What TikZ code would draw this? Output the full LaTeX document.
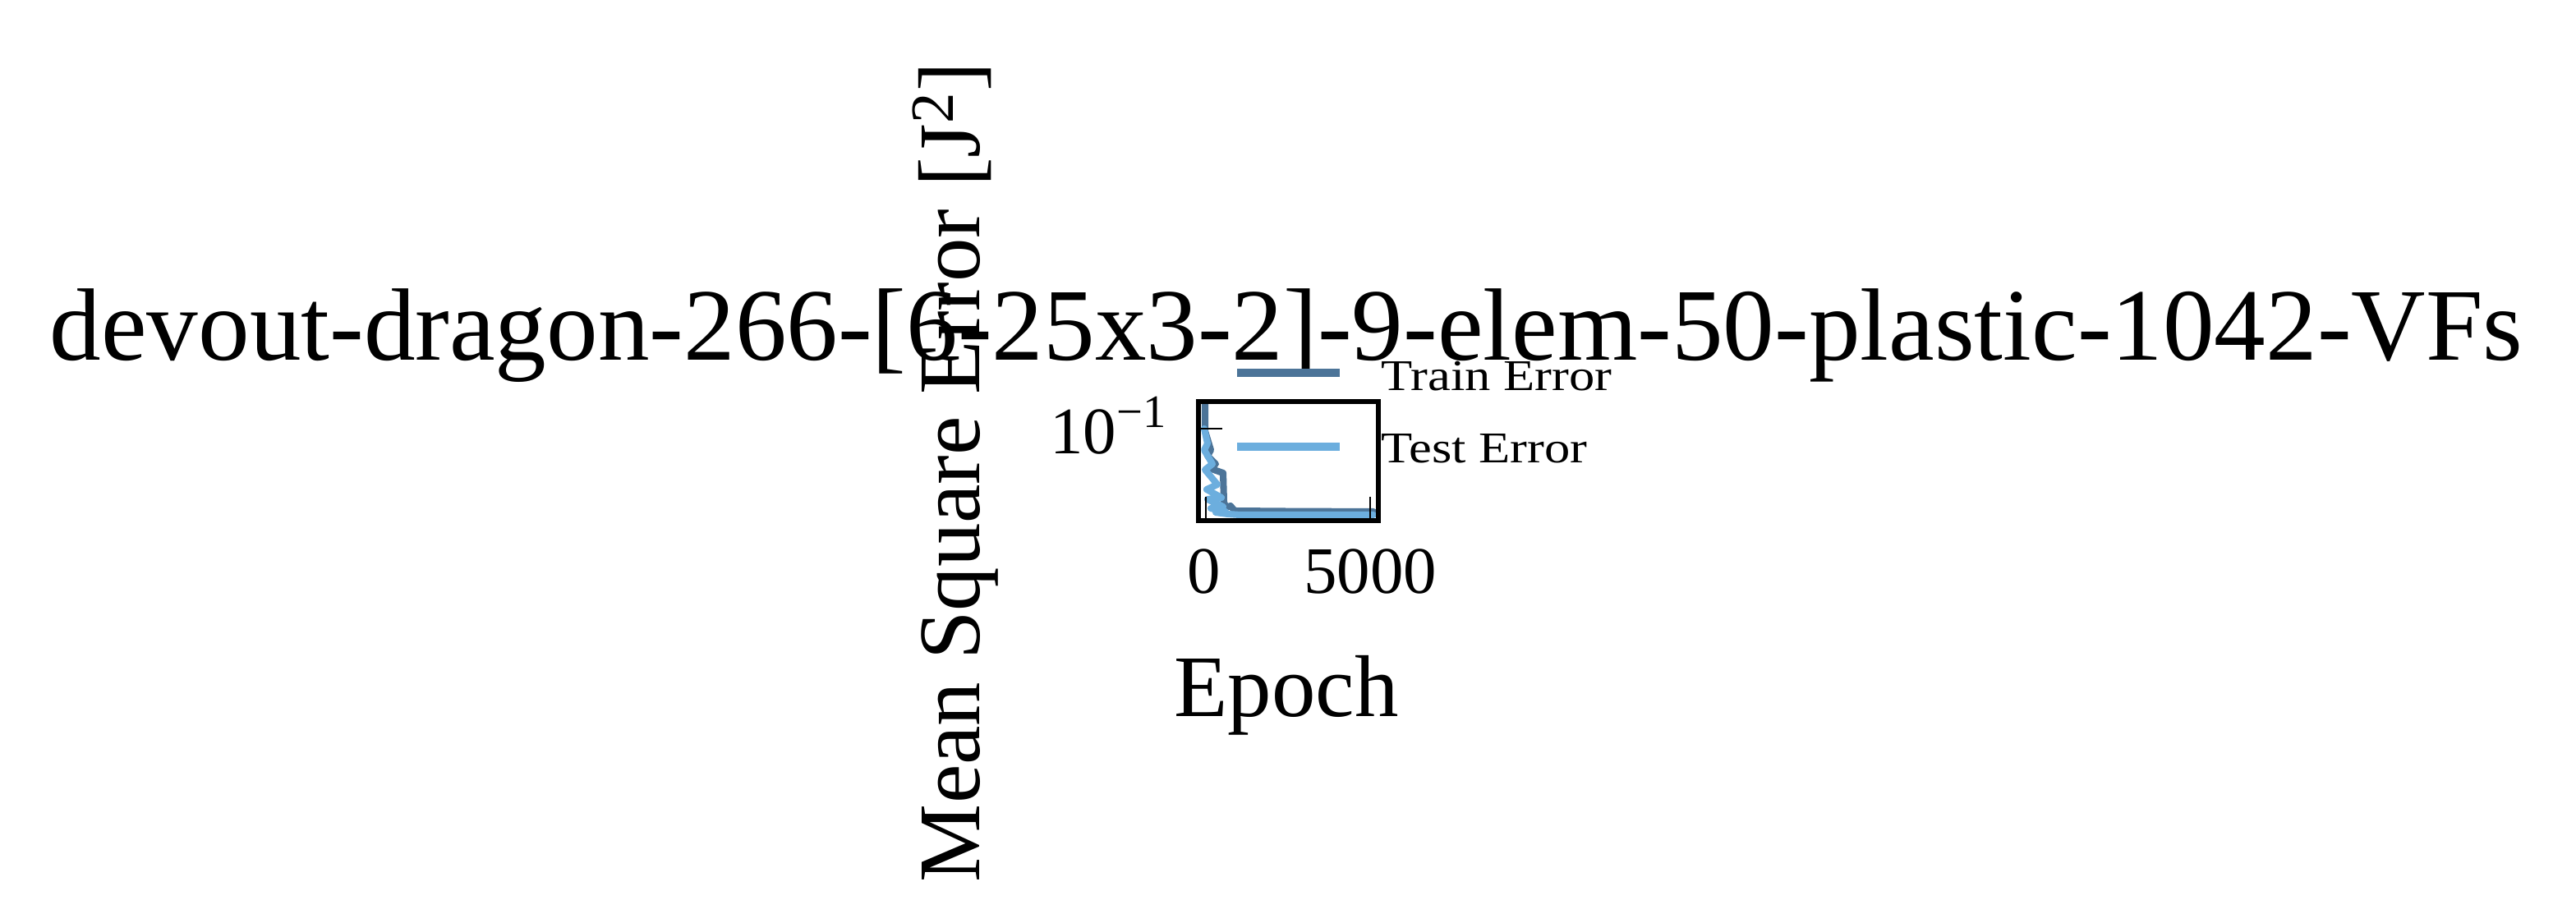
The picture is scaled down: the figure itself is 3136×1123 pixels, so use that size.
\documentclass[tikz,border=0pt]{standalone}
\usepackage{fontspec}
\setmainfont{Liberation Serif}
\newfontfamily\legendfont{Liberation Serif}[FakeStretch=1.17]
\usetikzlibrary{positioning}
\definecolor{trainblue}{RGB}{76,116,152}
\definecolor{testblue}{RGB}{108,174,222}
\tikzset{
  titletext/.style = {font=\fontsize{35.6}{40}\selectfont, inner sep=0pt},
  axislabel/.style = {font=\fontsize{30.4}{34}\selectfont, inner sep=0pt},
  ticklabel/.style = {font=\fontsize{23}{26}\selectfont, inner sep=0pt},
  legendtext/.style = {font=\legendfont\fontsize{15.2}{17}\selectfont, inner sep=0pt, anchor=base west},
  frame/.style     = {draw, line width=1.7pt},
  tickmark/.style  = {line width=0.5pt},
  curve/.style     = {line width=2.3pt, line join=round, line cap=round},
  legline/.style   = {line width=2.6pt}
}
\begin{document}
\begin{tikzpicture}[x=0.01cm, y=-0.01cm]
  \useasboundingbox (0,0) rectangle (3136,1123);
  % data, clipped to the axes
  \begin{scope}
    \clip (1462,492) rectangle (1675,631);
    \draw[curve, trainblue] (1467,470) -- (1467,525) -- (1474,548) -- (1470,555)
      -- (1480,565) -- (1472,570) -- (1489,576) -- (1490,612) -- (1493,618)
      -- (1498,616) -- (1503,622) -- (1560,622.5) -- (1672,623);
    \draw[curve, testblue] (1466,522) -- (1470,540) -- (1466,548) -- (1476,565)
      -- (1467,572) -- (1482,590) -- (1469,596) -- (1487,606) -- (1470,608)
      -- (1489,617) -- (1474,619) -- (1492,623) -- (1480,624) -- (1495,626)
      -- (1510,627) -- (1672,627);
  \end{scope}
  % ticks
  \draw[tickmark] (1462,522) -- (1488,522);
  \draw[tickmark] (1468,631) -- (1468,605);
  \draw[tickmark] (1668,631) -- (1668,605);
  \draw[frame] (1459,489) rectangle (1678,634);
  \node[ticklabel, anchor=base east] (ylow) at (1422,552) {10\textsuperscript{−1}};
  \node[ticklabel, anchor=base] (x0) at (1466,722) {0};
  \node[ticklabel, anchor=base] (x5000) at (1668,722) {5000};
  % labels
  \node[axislabel, anchor=base] (xlab) at (1566,872) {Epoch};
  \node[axislabel, anchor=base, rotate=90] (ylab) at (1192,575) {Mean Square Error [J\textsuperscript{2}]};
  \node[titletext, anchor=base] (title) at (1566,438) {devout-dragon-266-[6-25x3-2]-9-elem-50-plastic-1042-VFs};
  % legend
  \draw[legline, trainblue] (1506,454) -- (1631,454);
  \draw[legline, testblue] (1506,544) -- (1631,544);
  \node[legendtext] (ltrain) at (1681,475) {Train Error};
  \node[legendtext] (ltest) at (1681,563) {Test Error};
\end{tikzpicture}
\end{document}
